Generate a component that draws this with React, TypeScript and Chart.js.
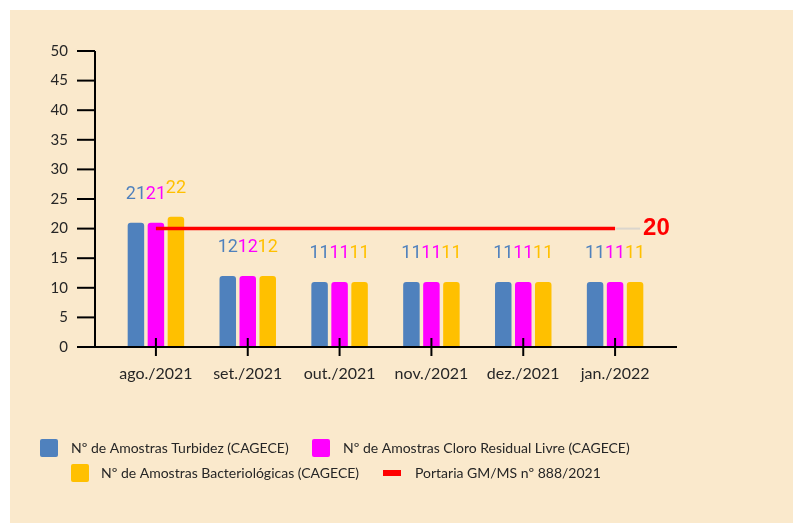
import React, { useEffect, useRef } from 'react';
import { Chart, registerables } from 'chart.js';

Chart.register(...registerables);

const categories = ['ago./2021', 'set./2021', 'out./2021', 'nov./2021', 'dez./2021', 'jan./2022'];
const turbidez = [21, 12, 11, 11, 11, 11];
const cloro = [21, 12, 11, 11, 11, 11];
const bacteriologicas = [22, 12, 11, 11, 11, 11];
const portaria = [20, 20, 20, 20, 20, 20];
const portariaLabel = '20';
const seriesNames = [
  'Nº de Amostras Turbidez (CAGECE)',
  'Nº de Amostras Cloro Residual Livre (CAGECE)',
  'Nº de Amostras Bacteriológicas (CAGECE)',
  'Portaria GM/MS nº 888/2021',
];
const seriesColors = ['#4F81BD', '#FF00FF', '#FFC000', '#FF0000'];
const yMin = 0;
const yMax = 50;
const yStep = 5;

const PANEL = '#FAE9CC';
const TEXT = '#262626';

const backgroundPlugin = {
  id: 'panelBg',
  beforeDraw(chart: any) {
    const { ctx, width, height } = chart;
    ctx.save();
    ctx.fillStyle = '#FFFFFF';
    ctx.fillRect(0, 0, width, height);
    ctx.fillStyle = PANEL;
    ctx.fillRect(10, 10, width - 10, height - 10);
    ctx.restore();
  },
};

const axesPlugin = {
  id: 'customAxes',
  afterDatasetsDraw(chart: any) {
    const { ctx, chartArea, scales } = chart;
    const x = scales.x;
    const y = scales.y;
    const y0 = y.getPixelForValue(yMin);
    const yTop = y.getPixelForValue(yMax);
    const axisX = chartArea.left - 15;
    ctx.save();
    ctx.strokeStyle = '#000000';
    ctx.lineWidth = 2;
    ctx.beginPath();
    ctx.moveTo(axisX, yTop);
    ctx.lineTo(axisX, y0);
    ctx.stroke();
    for (let v = yMin; v <= yMax; v += yStep) {
      const py = y.getPixelForValue(v);
      ctx.beginPath();
      ctx.moveTo(axisX - 18, py);
      ctx.lineTo(axisX, py);
      ctx.stroke();
    }
    ctx.beginPath();
    ctx.moveTo(axisX - 18, y0);
    ctx.lineTo(chartArea.right + 16, y0);
    ctx.stroke();
    categories.forEach((_, i) => {
      const px = x.getPixelForValue(i);
      ctx.beginPath();
      ctx.moveTo(px, y0 - 9);
      ctx.lineTo(px, y0 + 9);
      ctx.stroke();
    });
    ctx.restore();
  },
};

const labelsPlugin = {
  id: 'valueLabels',
  afterDatasetsDraw(chart: any) {
    const { ctx } = chart;
    ctx.save();
    chart.data.datasets.forEach((ds: any, di: number) => {
      const meta = chart.getDatasetMeta(di);
      if (ds.type === 'line') {
        const last = meta.data[meta.data.length - 1];
        if (!last) return;
        ctx.strokeStyle = 'rgba(205,205,205,0.7)';
        ctx.lineWidth = 2;
        ctx.beginPath();
        ctx.moveTo(last.x + 1, last.y);
        ctx.lineTo(last.x + 25, last.y);
        ctx.stroke();
        ctx.fillStyle = ds.borderColor;
        ctx.font = 'bold 24px "Liberation Sans", Arial, sans-serif';
        ctx.textAlign = 'left';
        ctx.textBaseline = 'middle';
        ctx.fillText(portariaLabel, last.x + 28, last.y);
        return;
      }
      ctx.fillStyle = ds.backgroundColor;
      ctx.font = '18px Roboto, sans-serif';
      ctx.textAlign = 'center';
      ctx.textBaseline = 'middle';
      meta.data.forEach((bar: any, i: number) => {
        ctx.fillText(String(ds.data[i]), bar.x, bar.y - 28);
      });
    });
    ctx.restore();
  },
};

const legendPlugin = {
  id: 'customLegend',
  afterDraw(chart: any) {
    const { ctx } = chart;
    ctx.save();
    ctx.font = '14px Lato, sans-serif';
    ctx.textAlign = 'left';
    ctx.textBaseline = 'middle';
    const items = [
      { x: 40, y: 448, kind: 'box', idx: 0, tx: 71 },
      { x: 312, y: 448, kind: 'box', idx: 1, tx: 343 },
      { x: 71, y: 473, kind: 'box', idx: 2, tx: 101 },
      { x: 383, y: 473, kind: 'line', idx: 3, tx: 415 },
    ];
    items.forEach((it) => {
      ctx.fillStyle = seriesColors[it.idx];
      if (it.kind === 'box') {
        ctx.beginPath();
        (ctx as any).roundRect(it.x, it.y - 9, 18, 18, 2);
        ctx.fill();
      } else {
        ctx.fillRect(it.x, it.y - 3, 18, 6);
      }
      ctx.fillStyle = TEXT;
      ctx.fillText(seriesNames[it.idx], it.tx, it.y);
    });
    ctx.restore();
  },
};

export default function App() {
  const ref = useRef<HTMLCanvasElement | null>(null);
  useEffect(() => {
    if (!ref.current) return;
    const barCommon = {
      type: 'bar' as const,
      categoryPercentage: 0.653,
      barPercentage: 0.825,
      borderRadius: 3,
      borderSkipped: 'bottom' as const,
      order: 1,
    };
    const chart = new Chart(ref.current, {
      type: 'bar',
      data: {
        labels: categories,
        datasets: [
          { ...barCommon, label: seriesNames[0], data: turbidez, backgroundColor: seriesColors[0] },
          { ...barCommon, label: seriesNames[1], data: cloro, backgroundColor: seriesColors[1] },
          { ...barCommon, label: seriesNames[2], data: bacteriologicas, backgroundColor: seriesColors[2] },
          {
            type: 'line' as const,
            label: seriesNames[3],
            data: portaria,
            borderColor: seriesColors[3],
            backgroundColor: seriesColors[3],
            borderWidth: 3.5,
            pointRadius: 0,
            fill: false,
            order: 0,
          },
        ] as any,
      },
      options: {
        animation: false,
        responsive: false,
        events: [],
        layout: { padding: { left: 0, right: 132, top: 47, bottom: 136 } },
        plugins: { legend: { display: false }, tooltip: { enabled: false } },
        scales: {
          x: {
            grid: { display: false, drawTicks: false },
            border: { display: false },
            ticks: { color: TEXT, font: { family: 'Lato', size: 16 }, padding: 17, maxRotation: 0, autoSkip: false },
            afterFit: (s: any) => { s.height = 40; },
          },
          y: {
            min: yMin,
            max: yMax,
            grid: { display: false, drawTicks: false },
            border: { display: false },
            ticks: { stepSize: yStep, color: TEXT, font: { family: 'Lato', size: 15 }, padding: 42 },
            afterFit: (s: any) => { s.width = 110; },
          },
        },
      },
      plugins: [backgroundPlugin, axesPlugin, labelsPlugin, legendPlugin],
    });
    return () => chart.destroy();
  }, []);
  return (
    <div style={{ position: 'fixed', left: 0, top: 0, width: 793, height: 523 }}>
      <canvas ref={ref} width={793} height={523} style={{ display: 'block' }} />
    </div>
  );
}
